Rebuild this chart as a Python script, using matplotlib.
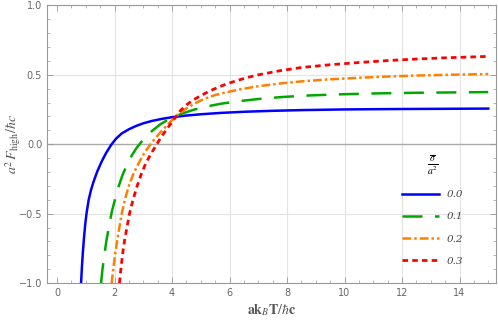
import matplotlib
matplotlib.use('Agg')
import matplotlib.pyplot as plt
from matplotlib.ticker import MultipleLocator

plt.rcParams['mathtext.fontset'] = 'stix'

# curve values (x = ak_B T / hbar c, y = a^2 F_high / hbar c)
x_00 = [0.835, 0.86, 0.89, 0.93, 0.98, 1.03, 1.1, 1.18, 1.26, 1.4, 1.55, 1.7, 1.88, 2.05, 2.25, 2.5, 2.75, 3.0, 3.3, 3.65, 4.0, 4.5, 5.0, 5.7, 6.5, 7.5, 8.5, 10.0, 12.0, 15.0]
y_00 = [-1.0, -0.9, -0.8, -0.69, -0.575, -0.49, -0.4, -0.33, -0.275, -0.195, -0.125, -0.065, -0.005, 0.04, 0.078, 0.108, 0.132, 0.151, 0.168, 0.183, 0.195, 0.207, 0.216, 0.226, 0.234, 0.241, 0.246, 0.251, 0.254, 0.257]

x_01 = [1.53, 1.58, 1.65, 1.72, 1.8, 1.9, 2.0, 2.13, 2.28, 2.45, 2.6, 2.77, 3.0, 3.3, 3.6, 3.93, 4.3, 4.74, 5.2, 5.7, 6.3, 7.0, 7.8, 8.7, 9.7, 11.0, 12.5, 15.0]
y_01 = [-1.0, -0.9, -0.79, -0.69, -0.6, -0.49, -0.41, -0.31, -0.22, -0.14, -0.08, -0.025, 0.035, 0.095, 0.145, 0.185, 0.217, 0.248, 0.272, 0.292, 0.31, 0.326, 0.34, 0.351, 0.359, 0.366, 0.371, 0.376]

x_02 = [1.90, 1.96, 2.02, 2.08, 2.13, 2.25, 2.36, 2.48, 2.65, 2.83, 3.0, 3.18, 3.4, 3.66, 3.93, 4.2, 4.5, 4.8, 5.1, 5.5, 5.9, 6.4, 7.0, 7.76, 8.6, 9.5, 10.5, 11.5, 12.5, 13.7, 15.0]
y_02 = [-1.0, -0.89, -0.79, -0.71, -0.645, -0.5, -0.4, -0.31, -0.215, -0.14, -0.075, -0.02, 0.04, 0.1, 0.16, 0.212, 0.258, 0.295, 0.325, 0.355, 0.375, 0.397, 0.418, 0.438, 0.455, 0.468, 0.479, 0.488, 0.495, 0.501, 0.506]

x_03 = [2.17, 2.22, 2.28, 2.35, 2.43, 2.52, 2.63, 2.77, 2.92, 3.08, 3.25, 3.41, 3.6, 3.8, 4.0, 4.14, 4.28, 4.5, 4.74, 5.0, 5.32, 5.6, 5.9, 6.2, 6.6, 7.0, 7.76, 8.5, 9.5, 10.5, 11.5, 12.5, 13.5, 15.0]
y_03 = [-1.0, -0.9, -0.79, -0.69, -0.6, -0.5, -0.41, -0.31, -0.22, -0.14, -0.075, -0.02, 0.045, 0.105, 0.16, 0.2, 0.24, 0.283, 0.32, 0.35, 0.385, 0.41, 0.435, 0.455, 0.48, 0.5, 0.53, 0.553, 0.573, 0.589, 0.603, 0.614, 0.623, 0.633]

labels = ['0.0', '0.1', '0.2', '0.3']

fig = plt.figure(figsize=(4.98, 3.22), dpi=100)
ax = fig.add_axes([0.0944, 0.121, 0.9016, 0.862])

# grid + axis line
for gx in range(2, 15, 2):
    ax.axvline(gx, color='#e3e3e3', lw=0.8, zorder=0)
for gy in (-0.5, 0.5):
    ax.axhline(gy, color='#e3e3e3', lw=0.8, zorder=0)
ax.axhline(0, color='#aaaaaa', lw=1.0, zorder=1)

ax.plot(x_00, y_00, color='#0000ff', lw=1.8, label=labels[0])
ax.plot(x_01, y_01, color='#00a800', lw=1.8, dashes=(8, 5), label=labels[1])
ax.plot(x_02, y_02, color='#ff8000', lw=1.8, dashes=(3.5, 1.2, 1, 1.2), label=labels[2])
ax.plot(x_03, y_03, color='#ff0000', lw=2.0, dashes=(2, 1.5), label=labels[3])

ax.set_xlim(-0.35, 15.27)
ax.set_ylim(-1, 1)
ax.xaxis.set_major_locator(MultipleLocator(2))
ax.xaxis.set_minor_locator(MultipleLocator(0.5))
ax.yaxis.set_minor_locator(MultipleLocator(0.1))
ax.set_yticks([-1.0, -0.5, 0.0, 0.5, 1.0])
ax.set_yticklabels(['\u22121.0', '\u22120.5', '0.0', '0.5', '1.0'])

ax.tick_params(which='both', direction='in', top=True, right=True,
               colors='#999999', labelcolor='#666666', labelsize=7)
ax.tick_params(which='major', length=4, width=0.6)
ax.tick_params(which='minor', length=2.3, width=0.5)
for s in ax.spines.values():
    s.set_color('#999999')
    s.set_linewidth(0.8)

ax.set_xlabel(r'$\mathbf{ak}_{B}\mathbf{T}/\hbar\mathbf{c}$', fontsize=10, color='#555555', labelpad=3)
ax.set_ylabel(r'$a^2\,F_{\mathrm{high}}/\hbar c$', fontsize=10, color='#555555')
ax.yaxis.set_label_coords(-0.054, 0.5)

leg = ax.legend(title=r'$\frac{\overline{\sigma}}{a^2}$', loc='upper left',
                bbox_to_anchor=(0.77, 0.5), frameon=False, handlelength=3.5,
                prop={'family': 'DejaVu Serif', 'style': 'italic', 'size': 7.5},
                labelspacing=1.25, title_fontsize=10)
for t in leg.get_texts():
    t.set_color('#444444')

fig.savefig('out.png', dpi=100)
